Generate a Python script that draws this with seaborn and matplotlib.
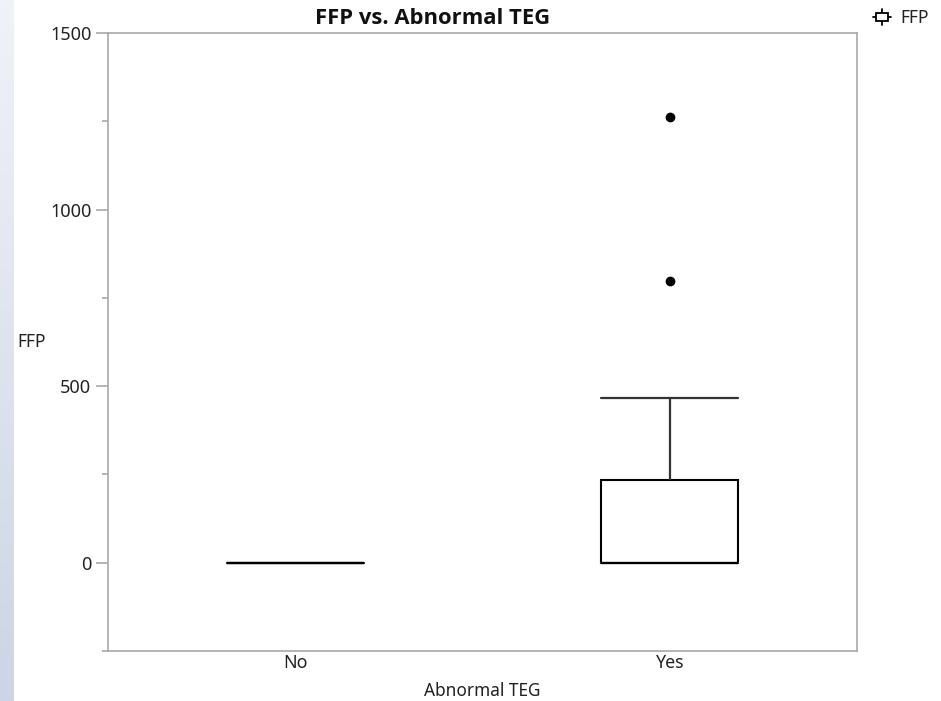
import numpy as np
import pandas as pd
import matplotlib
matplotlib.use("Agg")
import matplotlib.pyplot as plt
from matplotlib.lines import Line2D
from matplotlib.patches import Rectangle
import seaborn as sns

# FFP units given, by abnormal TEG result
groups = ["No", "Yes"]
ffp_no = [0, 0, 0, 0, 0, 0]
ffp_yes = [0, 0, 0, 0, 0, 0, 0, 110, 190, 233, 466, 798, 1261]

y_ticks = [0, 500, 1000, 1500]
y_minor = [-250, 250, 750, 1250]

df = pd.DataFrame({
    "Abnormal TEG": ["No"] * len(ffp_no) + ["Yes"] * len(ffp_yes),
    "FFP": ffp_no + ffp_yes,
})

sns.set_theme(style="white")
plt.rcParams["font.family"] = ["Noto Sans", "DejaVu Sans"]

W, H = 941, 701
fig = plt.figure(figsize=(W / 100, H / 100), dpi=100)

# soft blue strip along the left edge
strip = fig.add_axes([0, 0, 14 / W, 1])
grad = np.linspace(0, 1, 256).reshape(-1, 1)
top = np.array([0.94, 0.95, 0.975])
bot = np.array([0.80, 0.835, 0.90])
img = top + (bot - top) * grad[..., None]
strip.imshow(img.reshape(256, 1, 3), aspect="auto", extent=[0, 1, 0, 1])
strip.set_axis_off()

ax = fig.add_axes([108 / W, 1 - 651 / H, (857 - 108) / W, (651 - 33) / H])

BOX_W = 0.365
sns.boxplot(
    data=df, x="Abnormal TEG", y="FFP", order=groups, ax=ax,
    width=BOX_W, whis=1.5, color="white", linecolor="black", linewidth=1.5,
    boxprops=dict(facecolor="white", edgecolor="black", linewidth=1.5),
    medianprops=dict(color="black", linewidth=1.5),
    whiskerprops=dict(color="#333333", linewidth=1.6),
    capprops=dict(color="#333333", linewidth=1.6),
    flierprops=dict(marker="o", markersize=6, markerfacecolor="black",
                    markeredgecolor="black"),
)
# caps as wide as the boxes
for ln in ax.lines:
    xd = ln.get_xdata()
    yd = ln.get_ydata()
    if len(xd) == 2 and yd[0] == yd[1] and 0 < abs(xd[1] - xd[0]) < 0.3:
        c = (xd[0] + xd[1]) / 2
        ln.set_xdata([c - BOX_W / 2, c + BOX_W / 2])

ax.set_xlim(-0.5, 1.5)
ax.set_ylim(-250, 1500)
ax.set_yticks(y_ticks)
ax.set_yticks(y_minor, minor=True)
ax.set_yticklabels([str(v) for v in y_ticks])

for s in ax.spines.values():
    s.set_visible(True)
    s.set_color("#a8a8a8")
    s.set_linewidth(1.2)

ax.tick_params(axis="y", which="major", left=True, length=9, width=1.2,
               color="#a8a8a8", labelsize=13, labelcolor="#222222", pad=3)
ax.tick_params(axis="y", which="minor", left=True, length=4, width=1.2,
               color="#a8a8a8")
ax.tick_params(axis="x", length=0, labelsize=12.8, labelcolor="#222222", pad=2)

ax.set_xlabel("Abnormal TEG", fontsize=12.4, color="#222222", labelpad=7)
ax.set_ylabel("")
fig.text(17 / W, 1 - 342 / H, "FFP", fontsize=12.5, color="#222222",
         ha="left", va="center")

fig.text(433 / W, 1 - 19 / H, "FFP vs. Abnormal TEG", fontsize=15.8,
         family=["Open Sans", "DejaVu Sans"], fontweight="bold",
         color="#111111", ha="center", va="center")

# legend entry: small box-plot glyph and label
leg = fig.add_axes([0, 0, 1, 1], facecolor="none")
leg.set_xlim(0, W)
leg.set_ylim(H, 0)
leg.set_axis_off()
leg.add_line(Line2D([873, 891], [17, 17], color="black", linewidth=1.3))
leg.add_patch(Rectangle((876, 13), 12, 8, facecolor="white",
                        edgecolor="black", linewidth=1.3, zorder=3))
leg.add_line(Line2D([882, 882], [9, 13], color="black", linewidth=1.3))
leg.add_line(Line2D([882, 882], [21, 25], color="black", linewidth=1.3))
leg.text(900, 18, "FFP", fontsize=12.5, color="#222222", ha="left",
         va="center")

fig.savefig("out.png", dpi=100)
